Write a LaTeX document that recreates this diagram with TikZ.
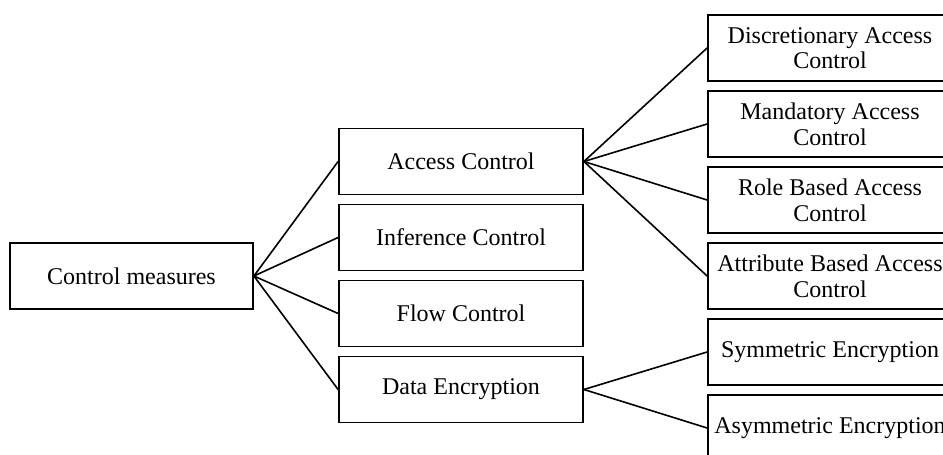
\documentclass[tikz,border=0pt]{standalone}
\usepackage{fontspec}
\setmainfont{Liberation Serif}
\begin{document}
\begin{tikzpicture}[x=0.5pt,y=-0.5pt,
  box/.style={draw, line width=0.9pt, minimum width=122pt, minimum height=33pt, inner sep=0pt, align=center, font=\fontsize{12}{12.8}\selectfont},
  link/.style={line width=0.8pt}]
\useasboundingbox (0,0) rectangle (943,455);
\clip (0,0) rectangle (943,455);
\node[box, minimum width=121.5pt] (cm) at (131.5,276) {Control measures};
\node[box] (ac) at (461,161.5) {Access Control};
\node[box] (ic) at (461,237.5) {Inference Control};
\node[box] (fc) at (461,313.5) {Flow Control};
\node[box] (de) at (461,389.5) {Data Encryption};
\node[box] (dac) at (830,48) {Discretionary Access\\Control};
\node[box] (mac) at (830,124) {Mandatory Access\\Control};
\node[box] (rbac) at (830,200) {Role Based Access\\Control};
\node[box] (abac) at (830,276) {Attribute Based Access\\Control};
\node[box] (se) at (830,352) {Symmetric Encryption};
\node[box] (ae) at (830,428) {Asymmetric Encryption};
\foreach \t in {ac,ic,fc,de} \draw[link] (cm.east) -- (\t.west);
\foreach \t in {dac,mac,rbac,abac} \draw[link] (ac.east) -- (\t.west);
\foreach \t in {se,ae} \draw[link] (de.east) -- (\t.west);
\end{tikzpicture}
\end{document}
